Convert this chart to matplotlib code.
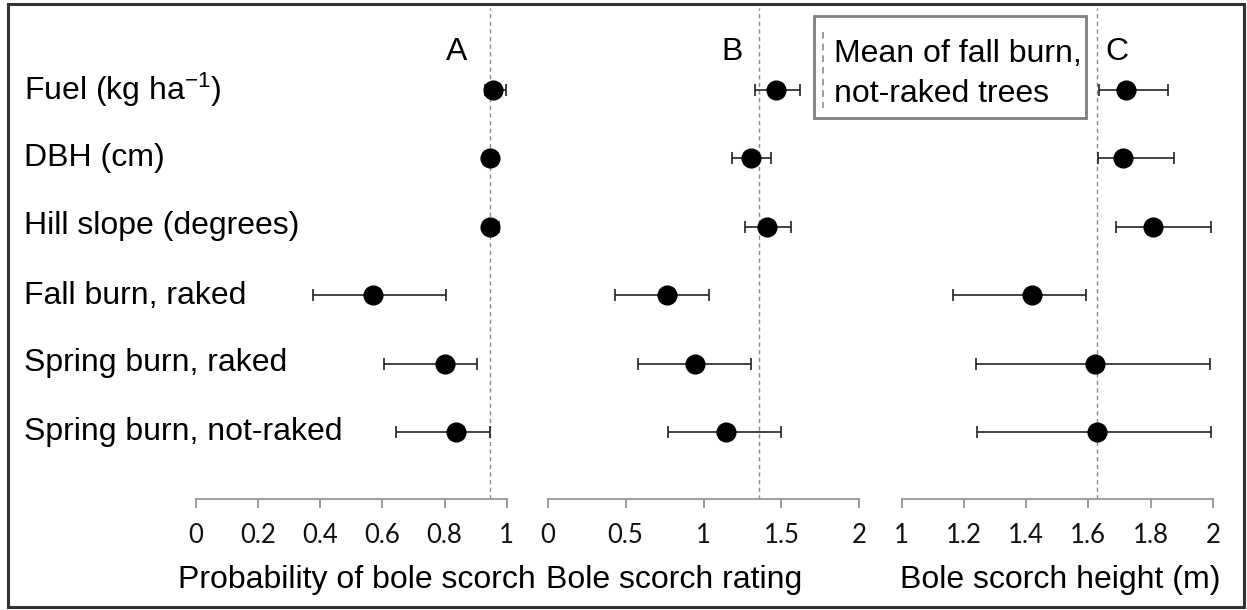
import matplotlib
matplotlib.use("Agg")
import matplotlib.pyplot as plt
from matplotlib.patches import Rectangle
from matplotlib.lines import Line2D

plt.rcParams['font.family'] = ['Liberation Sans', 'DejaVu Sans']
plt.rcParams['mathtext.fontset'] = 'custom'
plt.rcParams['mathtext.rm'] = 'Liberation Sans'
plt.rcParams['mathtext.it'] = 'Liberation Sans'

# ---- data ----
categories = ["Fuel (kg ha$^{-1}$)", "DBH (cm)", "Hill slope (degrees)",
              "Fall burn, raked", "Spring burn, raked", "Spring burn, not-raked"]

prob_mean = [0.955, 0.945, 0.947, 0.569, 0.800, 0.836]
prob_low = [0.93, 0.94, 0.935, 0.376, 0.605, 0.643]
prob_high = [0.997, 0.95, 0.974, 0.805, 0.906, 0.945]
prob_ref = 0.945

rating_mean = [1.464, 1.308, 1.406, 0.767, 0.947, 1.143]
rating_low = [1.333, 1.184, 1.265, 0.429, 0.577, 0.774]
rating_high = [1.617, 1.436, 1.560, 1.038, 1.308, 1.496]
rating_ref = 1.357

height_mean = [1.722, 1.712, 1.808, 1.420, 1.623, 1.627]
height_low = [1.636, 1.631, 1.688, 1.165, 1.239, 1.243]
height_high = [1.856, 1.874, 1.994, 1.591, 1.990, 1.994]
height_ref = 1.629

panel_letters = ["A", "B", "C"]
xlabels = ["Probability of bole scorch", "Bole scorch rating", "Bole scorch height (m)"]
xlims = [(0, 1), (0, 2), (1, 2)]
xticks = [[0, 0.2, 0.4, 0.6, 0.8, 1], [0, 0.5, 1, 1.5, 2], [1, 1.2, 1.4, 1.6, 1.8, 2]]
xticklabels = [["0", "0.2", "0.4", "0.6", "0.8", "1"],
               ["0", "0.5", "1", "1.5", "2"],
               ["1", "1.2", "1.4", "1.6", "1.8", "2"]]
legend_text = "Mean of fall burn,\nnot-raked trees"

W, H = 1247, 610
fig = plt.figure(figsize=(W / 100, H / 100), dpi=100)

def fx(px):
    return px / W

def fy(py):
    return 1 - py / H

panel_px = [(196, 506.7), (547.7, 859.3), (901.7, 1212.7)]
ax_top, ax_bot = 8, 499
letter_px = [457, 732, 1117]
xlabel_px = [357, 674, 1060]

series = [(prob_mean, prob_low, prob_high, prob_ref),
          (rating_mean, rating_low, rating_high, rating_ref),
          (height_mean, height_low, height_high, height_ref)]

ypos = list(range(1, len(categories) + 1))
grey = "#8c8c8c"
FS = 23

for i, (x0, x1) in enumerate(panel_px):
    ax = fig.add_axes([fx(x0), fy(ax_bot), fx(x1 - x0), (ax_bot - ax_top) / H])
    mean, low, high, ref = series[i]
    xerr = [[m - l for m, l in zip(mean, low)], [h - m for m, h in zip(mean, high)]]
    ax.axvline(ref, color=grey, lw=1.0, ls=(0, (3, 2.5)), zorder=1)
    ax.errorbar(mean, ypos, xerr=xerr, fmt='o', color='black', ecolor='#222222',
                elinewidth=1.2, capsize=4.5, capthick=1.2, markersize=13.5,
                clip_on=False, zorder=3)
    ax.set_xlim(*xlims[i])
    ax.set_ylim(6.98, -0.2)
    ax.set_xticks(xticks[i])
    ax.set_xticklabels(xticklabels[i], family=['Lato', 'DejaVu Sans'], fontsize=18.5)
    ax.set_yticks([])
    for s in ['left', 'right', 'top']:
        ax.spines[s].set_visible(False)
    ax.spines['bottom'].set_color(grey)
    ax.spines['bottom'].set_linewidth(1.2)
    ax.tick_params(axis='x', direction='out', length=6.5, width=1.2, color=grey,
                   pad=11, labelcolor='#111111')
    ax.patch.set_alpha(0)
    fig.text(fx(letter_px[i]), fy(52), panel_letters[i], fontsize=FS,
             ha='center', va='center')
    fig.text(fx(xlabel_px[i]), fy(580), xlabels[i], fontsize=FS,
             ha='center', va='center')

# row labels
row_px = [90, 158, 226, 296, 363, 432]
for lab, py in zip(categories, row_px):
    fig.text(fx(24), fy(py), lab, fontsize=FS, ha='left', va='center')

# legend box
fig.patches.append(Rectangle((fx(814), fy(118)), fx(1086 - 814), (118 - 16) / H,
                             transform=fig.transFigure, fill=True, facecolor='white',
                             edgecolor='#7f7f7f', lw=2, zorder=5))
fig.lines.append(Line2D([fx(822.7), fx(822.7)], [fy(32), fy(108)],
                        transform=fig.transFigure, color=grey, lw=1.2,
                        ls=(0, (4, 3)), zorder=6))
fig.text(fx(834), fy(74), legend_text, fontsize=FS, ha='left', va='center',
         linespacing=1.4, zorder=7)

# outer frame
fig.patches.append(Rectangle((fx(8), fy(607)), fx(1244 - 8), (607 - 4) / H,
                             transform=fig.transFigure, fill=False,
                             edgecolor='#333333', lw=2.2, zorder=10))

fig.savefig("out.png", dpi=100)
